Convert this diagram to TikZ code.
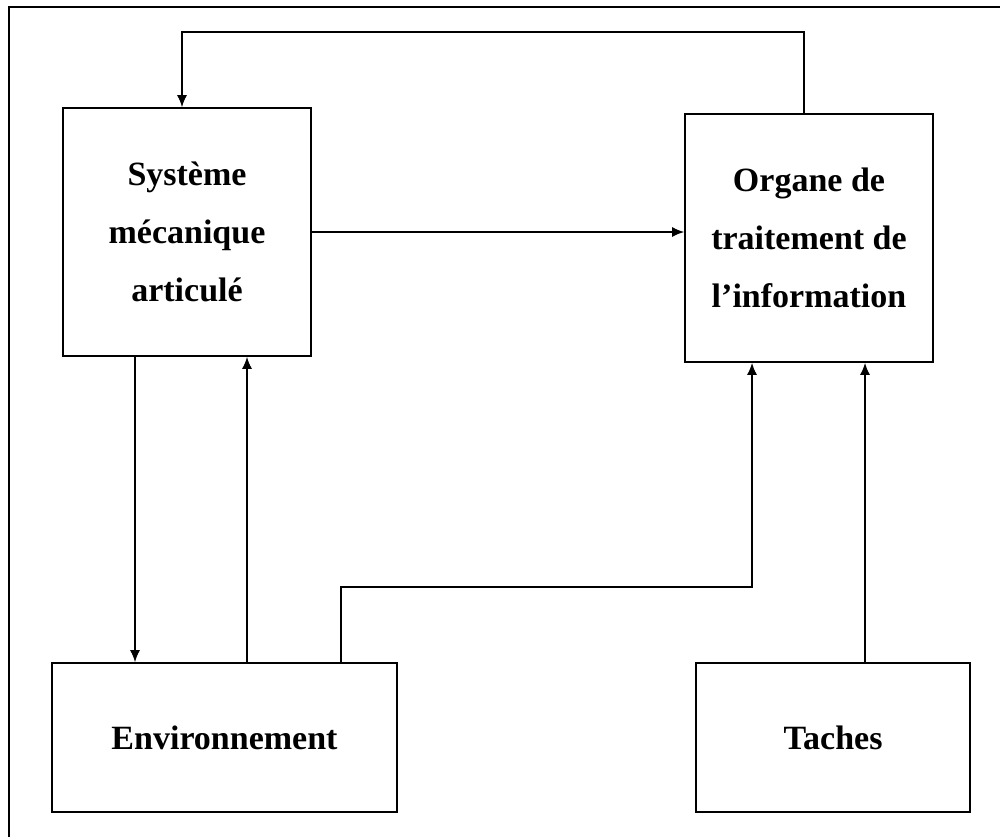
\documentclass[tikz,border=0pt]{standalone}
\usepackage{fontspec}
\setmainfont{Liberation Serif}
\usetikzlibrary{positioning,arrows.meta}

\tikzset{
	bloc/.style={draw, line width=1.6pt, align=center, inner sep=0pt,
		font=\fontsize{34}{58}\selectfont\bfseries},
	fleche/.style={line width=1.6pt, -{Latex[length=12pt,width=10pt]}}
}

\begin{document}
\begin{tikzpicture}[x=1pt,y=-1pt]
	\useasboundingbox (0,0) rectangle (1000,836);
	% cadre
	\draw[line width=2.5pt] (9,850) -- (9,7) -- (1010,7);
	
	\node[bloc, minimum width=248pt, minimum height=248pt] (sys) at (187,232) {Système\\mécanique\\articulé};
	
	\node[bloc, minimum width=248pt, minimum height=248pt] (org) at (809,238) {Organe de\\traitement de\\l’information};
	
	\node[bloc, minimum width=345pt, minimum height=149pt] (env) at (224.5,737.5) {Environnement};
	
	\node[bloc, minimum width=274pt, minimum height=149pt] (tac) at (833,737.5) {Taches};
	
	% points de passage
	\coordinate (hautD) at (804,32);
	\coordinate (hautG) at (182,32);
	\coordinate (xa) at (135,0);
	\coordinate (xb) at (247,0);
	\coordinate (xc) at (341,587);
	\coordinate (xd) at (752,587);
	\coordinate (xe) at (865,0);
	
	\draw[fleche] (org.north -| hautD) -- (hautD) -- (hautG) -- (sys.north -| hautG);
	\draw[fleche] (sys.east) -- (sys.east -| org.west);
	
	\draw[fleche] (sys.south -| xa) -- (env.north -| xa);
	\draw[fleche] (env.north -| xb) -- (sys.south -| xb);
	
	%\draw[fleche] (env.north -| xc) |- (xd);
	\draw[fleche] (env.north -| xc) -- (xc) -- (xd) -- (org.south -| xd);
	\draw[fleche] (tac.north -| xe) -- (org.south -| xe);
\end{tikzpicture}
\end{document}
